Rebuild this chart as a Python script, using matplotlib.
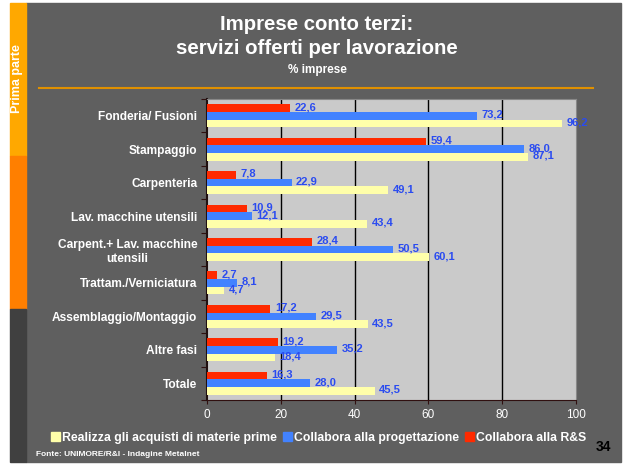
import numpy as np
import matplotlib
matplotlib.use("Agg")
import matplotlib.pyplot as plt
import matplotlib.patches as mpatches

plt.rcParams['font.family'] = ['Liberation Sans', 'DejaVu Sans']

categories = ["Fonderia/ Fusioni", "Stampaggio", "Carpenteria",
              "Lav. macchine utensili", "Carpent.+ Lav. macchine\nutensili",
              "Trattam./Verniciatura", "Assemblaggio/Montaggio",
              "Altre fasi", "Totale"]
rs = [22.6, 59.4, 7.8, 10.9, 28.4, 2.7, 17.2, 19.2, 16.3]
progett = [73.2, 86.0, 22.9, 12.1, 50.5, 8.1, 29.5, 35.2, 28.0]
acquisti = [96.2, 87.1, 49.1, 43.4, 60.1, 4.7, 43.5, 18.4, 45.5]
xticks = [0, 20, 40, 60, 80, 100]

series = [("Collabora alla R&S", rs, "#ff2a00"),
          ("Collabora alla progettazione", progett, "#4282ff"),
          ("Realizza gli acquisti di materie prime", acquisti, "#ffffaa")]

W, H = 626, 465
fig = plt.figure(figsize=(W / 100, H / 100), dpi=100, facecolor="white")

def px(x, y, w, h):
    return [x / W, 1 - (y + h) / H, w / W, h / H]

# page background and side strip
bg = fig.add_axes([0, 0, 1, 1])
bg.set_xlim(0, W)
bg.set_ylim(H, 0)
bg.axis("off")
bg.add_patch(mpatches.Rectangle((26, 3), 595, 459, color="#5f5f5f"))
bg.add_patch(mpatches.Rectangle((10, 3), 16, 153, color="#ffa800"))
bg.add_patch(mpatches.Rectangle((10, 156), 16, 153, color="#ff7f00"))
bg.add_patch(mpatches.Rectangle((10, 309), 16, 153, color="#404040"))
bg.plot([39, 593], [88, 88], color="#e09000", lw=1.5)
bg.text(17, 79, "Prima parte", rotation=90, color="white", fontsize=9,
        fontweight="bold", ha="center", va="center")

fig.text(317 / W, 1 - 24 / H, "Imprese conto terzi:", color="white",
         fontsize=14.7, fontweight="bold", ha="center", va="center")
fig.text(317 / W, 1 - 48 / H, "servizi offerti per lavorazione", color="white",
         fontsize=14.7, fontweight="bold", ha="center", va="center")
fig.text(317 / W, 1 - 70 / H, "% imprese", color="white",
         fontsize=8.5, fontweight="bold", ha="center", va="center")

ax = fig.add_axes(px(207, 99, 369, 301))
ax.set_facecolor("#cacaca")
y = np.arange(len(categories))
h = 0.23
offsets = [-h, 0, h]
for (name, vals, col), off in zip(series, offsets):
    ax.barh(y + off, vals, height=h, color=col, label=name, zorder=3)
    for yi, v in zip(y, vals):
        ax.text(v + 1.2, yi + off - 0.03, f"{v:.1f}".replace(".", ","),
                color="#2a4bf0", fontsize=8, fontweight="bold",
                va="center", ha="left", zorder=4)

ax.set_xlim(0, 100)
ax.set_ylim(len(categories) - 0.5, -0.5)
ax.set_xticks(xticks)
ax.tick_params(axis="x", colors="white", labelsize=8.5, length=3,
               color="#301010")
ax.set_yticks(np.arange(len(categories) + 1) - 0.5)
ax.set_yticklabels([])
ax.tick_params(axis="y", length=4, color="#301010")
ax.set_yticks(y, minor=True)
ax.set_yticklabels(categories, minor=True, color="white", fontsize=8.6,
                   fontweight="bold", multialignment="center")
ax.tick_params(axis="y", which="minor", length=0, pad=7)
for xv in xticks[1:-1]:
    ax.axvline(xv, color="black", lw=1, zorder=2)
ax.spines["left"].set_color("#201010")
ax.spines["left"].set_linewidth(1.5)
ax.spines["bottom"].set_color("#301010")
ax.spines["top"].set_color("#888888")
ax.spines["right"].set_color("#888888")

handles = [mpatches.Patch(color=c, label=n) for n, v, c in series[::-1]]
leg = fig.legend(handles=handles, loc="center", ncol=3,
                 bbox_to_anchor=(319 / W, 1 - 438 / H), frameon=False,
                 handlelength=0.7, handleheight=0.7, handletextpad=0.2,
                 columnspacing=0.5, prop={"size": 8.8, "weight": "bold"})
for t in leg.get_texts():
    t.set_color("white")

fig.text(36 / W, 1 - 454 / H, "Fonte: UNIMORE/R&I - Indagine Metalnet",
         color="white", fontsize=6, fontweight="bold", ha="left", va="center")
fig.text(603 / W, 1 - 447 / H, "34", color="black", fontsize=10,
         fontweight="bold", ha="center", va="center")

fig.savefig("out.png", dpi=100, facecolor=fig.get_facecolor())
